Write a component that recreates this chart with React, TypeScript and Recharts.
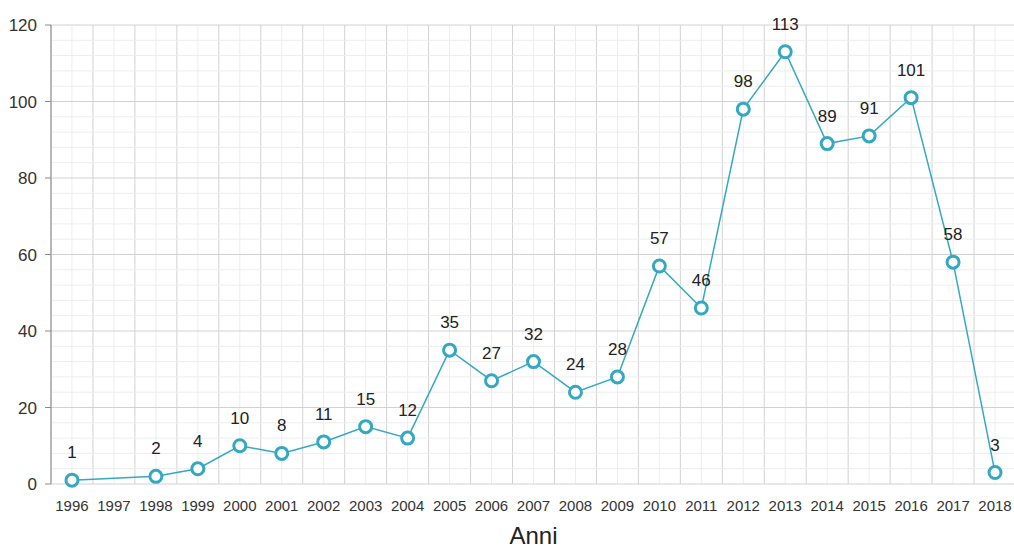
import { LineChart, Line, XAxis, YAxis, CartesianGrid, LabelList, ReferenceLine } from 'recharts';

// anni con pubblicazioni (il 1997 non ha valori)
const years = [1996, 1998, 1999, 2000, 2001, 2002, 2003, 2004, 2005, 2006, 2007, 2008, 2009, 2010, 2011, 2012, 2013, 2014, 2015, 2016, 2017, 2018];
const counts = [1, 2, 4, 10, 8, 11, 15, 12, 35, 27, 32, 24, 28, 57, 46, 98, 113, 89, 91, 101, 58, 3];

const yearTicks = [1996, 1997, 1998, 1999, 2000, 2001, 2002, 2003, 2004, 2005, 2006, 2007, 2008, 2009, 2010, 2011, 2012, 2013, 2014, 2015, 2016, 2017, 2018];
const bandTicks = [1995.5, ...yearTicks.map(y => y + 0.5)];
const majorTicks = [0, 20, 40, 60, 80, 100, 120];
const minorTicks = [4, 8, 12, 16, 24, 28, 32, 36, 44, 48, 52, 56, 64, 68, 72, 76, 84, 88, 92, 96, 104, 108, 112, 116];

const data = years.map((anno, i) => ({ anno, valore: counts[i] }));

const COLOR = '#35a8c1';
const FONT = 'Arial, "Liberation Sans", sans-serif';

// tick senza testo: serve solo per linee di griglia e trattini
const EmptyTick = () => <g />;

export default function App() {
  return (
    <div style={{ position: 'fixed', left: 0, top: 0, width: 1014, height: 549, overflow: 'hidden', fontFamily: FONT, background: '#fff' }}>
      <LineChart
        width={1032}
        height={549}
        data={data}
        margin={{ top: 25, right: 16, left: 0, bottom: 5 }}
      >
        {/* griglia secondaria verticale (centro degli anni) */}
        <CartesianGrid xAxisId="year" yAxisId="major" horizontal={false} stroke="#ededed" strokeWidth={1} />
        {/* griglia principale */}
        <CartesianGrid xAxisId="band" yAxisId="major" stroke="#d2d2d2" strokeWidth={1} />

        {/* righe orizzontali secondarie */}
        {minorTicks.map(v => (
          <ReferenceLine key={v} xAxisId="year" yAxisId="major" y={v} stroke="#ededed" strokeWidth={1} />
        ))}

        <XAxis
          xAxisId="band"
          dataKey="anno"
          type="number"
          domain={[1995.5, 2018.5]}
          ticks={bandTicks}
          interval={0}
          tick={EmptyTick}
          tickSize={6}
          height={0}
          axisLine={{ stroke: '#8a8a8a' }}
          tickLine={{ stroke: '#8a8a8a' }}
          allowDataOverflow
        />
        <XAxis
          xAxisId="year"
          dataKey="anno"
          type="number"
          domain={[1995.5, 2018.5]}
          ticks={yearTicks}
          interval={0}
          axisLine={false}
          tickLine={false}
          tickMargin={10}
          height={60}
          tick={{ fill: '#333', fontSize: 15, fontFamily: FONT }}
          label={{ value: 'Anni', position: 'insideBottom', offset: 0, fill: '#222', fontSize: 24, fontFamily: FONT }}
          allowDataOverflow
        />

        <YAxis
          yAxisId="major"
          domain={[0, 120]}
          ticks={majorTicks}
          interval={0}
          width={51}
          tickSize={6}
          tickMargin={8}
          axisLine={{ stroke: '#8a8a8a' }}
          tickLine={{ stroke: '#8a8a8a' }}
          tick={{ fill: '#333', fontSize: 17, fontFamily: FONT }}
        />

        <Line
          xAxisId="year"
          yAxisId="major"
          type="linear"
          dataKey="valore"
          stroke={COLOR}
          strokeWidth={1.5}
          dot={{ r: 6, stroke: COLOR, strokeWidth: 3, fill: '#fff' }}
          activeDot={false}
          isAnimationActive={false}
        >
          <LabelList dataKey="valore" position="top" offset={22} fill="#222" fontSize={17} fontFamily={FONT} />
        </Line>
      </LineChart>
    </div>
  );
}
